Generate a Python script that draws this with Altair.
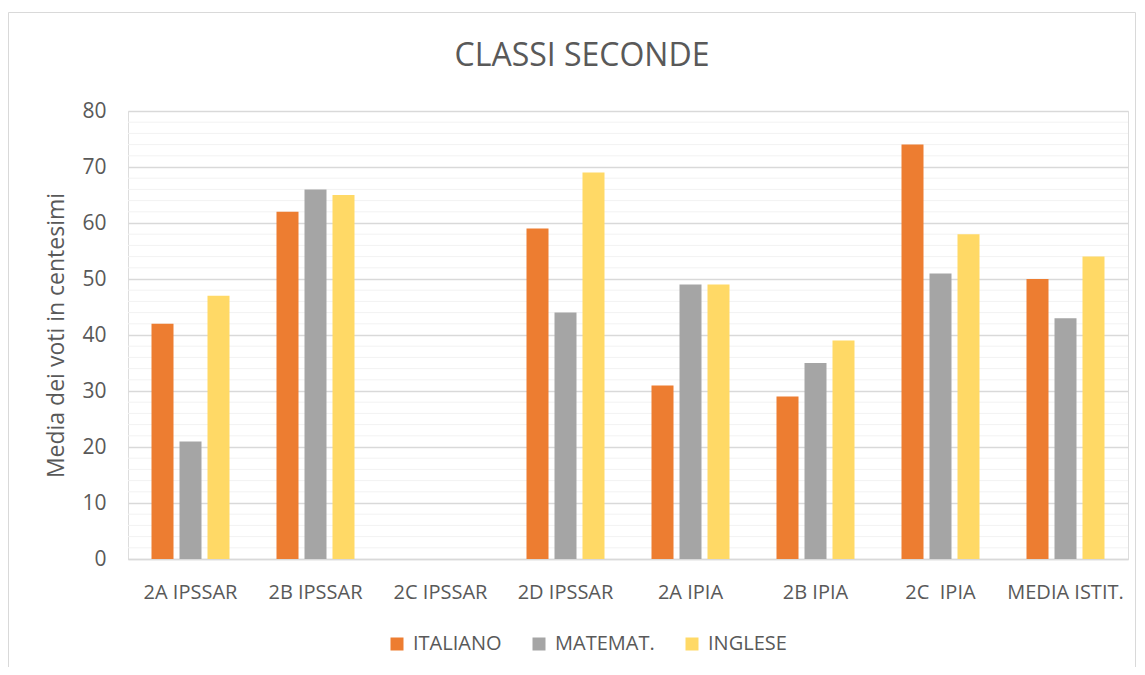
import altair as alt
import pandas as pd

categories = ["2A IPSSAR", "2B IPSSAR", "2C IPSSAR", "2D IPSSAR",
              "2A IPIA", "2B IPIA", "2C  IPIA", "MEDIA ISTIT."]
series = ["ITALIANO", "MATEMAT.", "INGLESE"]
colors = ["#ED7D31", "#A5A5A5", "#FFD966"]

italiano = [42, 62, None, 59, 31, 29, 74, 50]
matemat = [21, 66, None, 44, 49, 35, 51, 43]
inglese = [47, 65, None, 69, 49, 39, 58, 54]

major_ticks = [0, 10, 20, 30, 40, 50, 60, 70, 80]
minor_ticks = [2, 4, 6, 8, 12, 14, 16, 18, 22, 24, 26, 28, 32, 34, 36, 38,
               42, 44, 46, 48, 52, 54, 56, 58, 62, 64, 66, 68, 72, 74, 76, 78]

rows = []
for name, vals in zip(series, [italiano, matemat, inglese]):
    for c, v in zip(categories, vals):
        if v is not None:
            rows.append({"classe": c, "materia": name, "voto": v})
df = pd.DataFrame(rows)
minor_df = pd.DataFrame({"voto": minor_ticks})
frame_df = pd.DataFrame({"a": [0]})

TXT = "#595959"
FONT = "Open Sans"

y_scale = alt.Scale(domain=[0, 80], nice=False)
y_axis = alt.Axis(title="Media dei voti in centesimi", values=major_ticks,
                  grid=True, gridColor="#d9d9d9", gridWidth=1.5,
                  domain=False, ticks=False, tickSize=0,
                  labelFontSize=21, labelColor=TXT, labelFont=FONT, labelPadding=22,
                  titleFontSize=23, titleColor=TXT, titleFont=FONT,
                  titleFontWeight="normal", titlePadding=13)

minor = alt.Chart(minor_df).mark_rule(color="#f2f2f2", strokeWidth=1).encode(
    y=alt.Y("voto:Q", scale=y_scale, axis=y_axis)
)

bars = alt.Chart(df).mark_bar().encode(
    x=alt.X("classe:N", sort=categories,
            scale=alt.Scale(domain=categories, paddingInner=0.376, paddingOuter=0.188),
            axis=alt.Axis(title=None, labelFontSize=20, labelColor=TXT, labelFont=FONT,
                          labelPadding=23, ticks=False, tickSize=0, labelAngle=0,
                          domainColor="#d9d9d9", domainWidth=1.5,
                          labelExpr="replace(datum.label, '  ', ' \u00a0')")),
    xOffset=alt.XOffset("materia:N", sort=series,
                        scale=alt.Scale(domain=series, paddingInner=0.214, paddingOuter=0)),
    y=alt.Y("voto:Q", scale=y_scale, axis=y_axis),
    color=alt.Color("materia:N", sort=series,
                    scale=alt.Scale(domain=series, range=colors),
                    legend=alt.Legend(title=None, orient="none", legendX=259, legendY=523,
                                      direction="horizontal", symbolType="square",
                                      symbolSize=169, symbolStrokeWidth=0,
                                      labelFontSize=20, labelColor=TXT, labelFont=FONT,
                                      columnPadding=27, labelOffset=6)),
)

frame = alt.Chart(frame_df).mark_rect(fill="white", fillOpacity=0, stroke="#d9d9d9",
                                      strokeWidth=1).encode(
    x=alt.value(-119.5), x2=alt.value(1007.5), y=alt.value(-98.5), y2=alt.value(640)
)

chart = alt.layer(minor, bars, frame).properties(
    width=1000, height=448,
    title=alt.Title("CLASSI SECONDE", fontSize=32, font=FONT, fontWeight="normal",
                    color=TXT, dx=-46, offset=-61),
    autosize=alt.AutoSizeParams(type="none"),
    padding={"left": 120, "top": 103, "right": 9, "bottom": 108},
).configure_view(strokeWidth=0).configure(font=FONT)

chart.save("out.html", embed_options={"renderer": "svg", "actions": False})
